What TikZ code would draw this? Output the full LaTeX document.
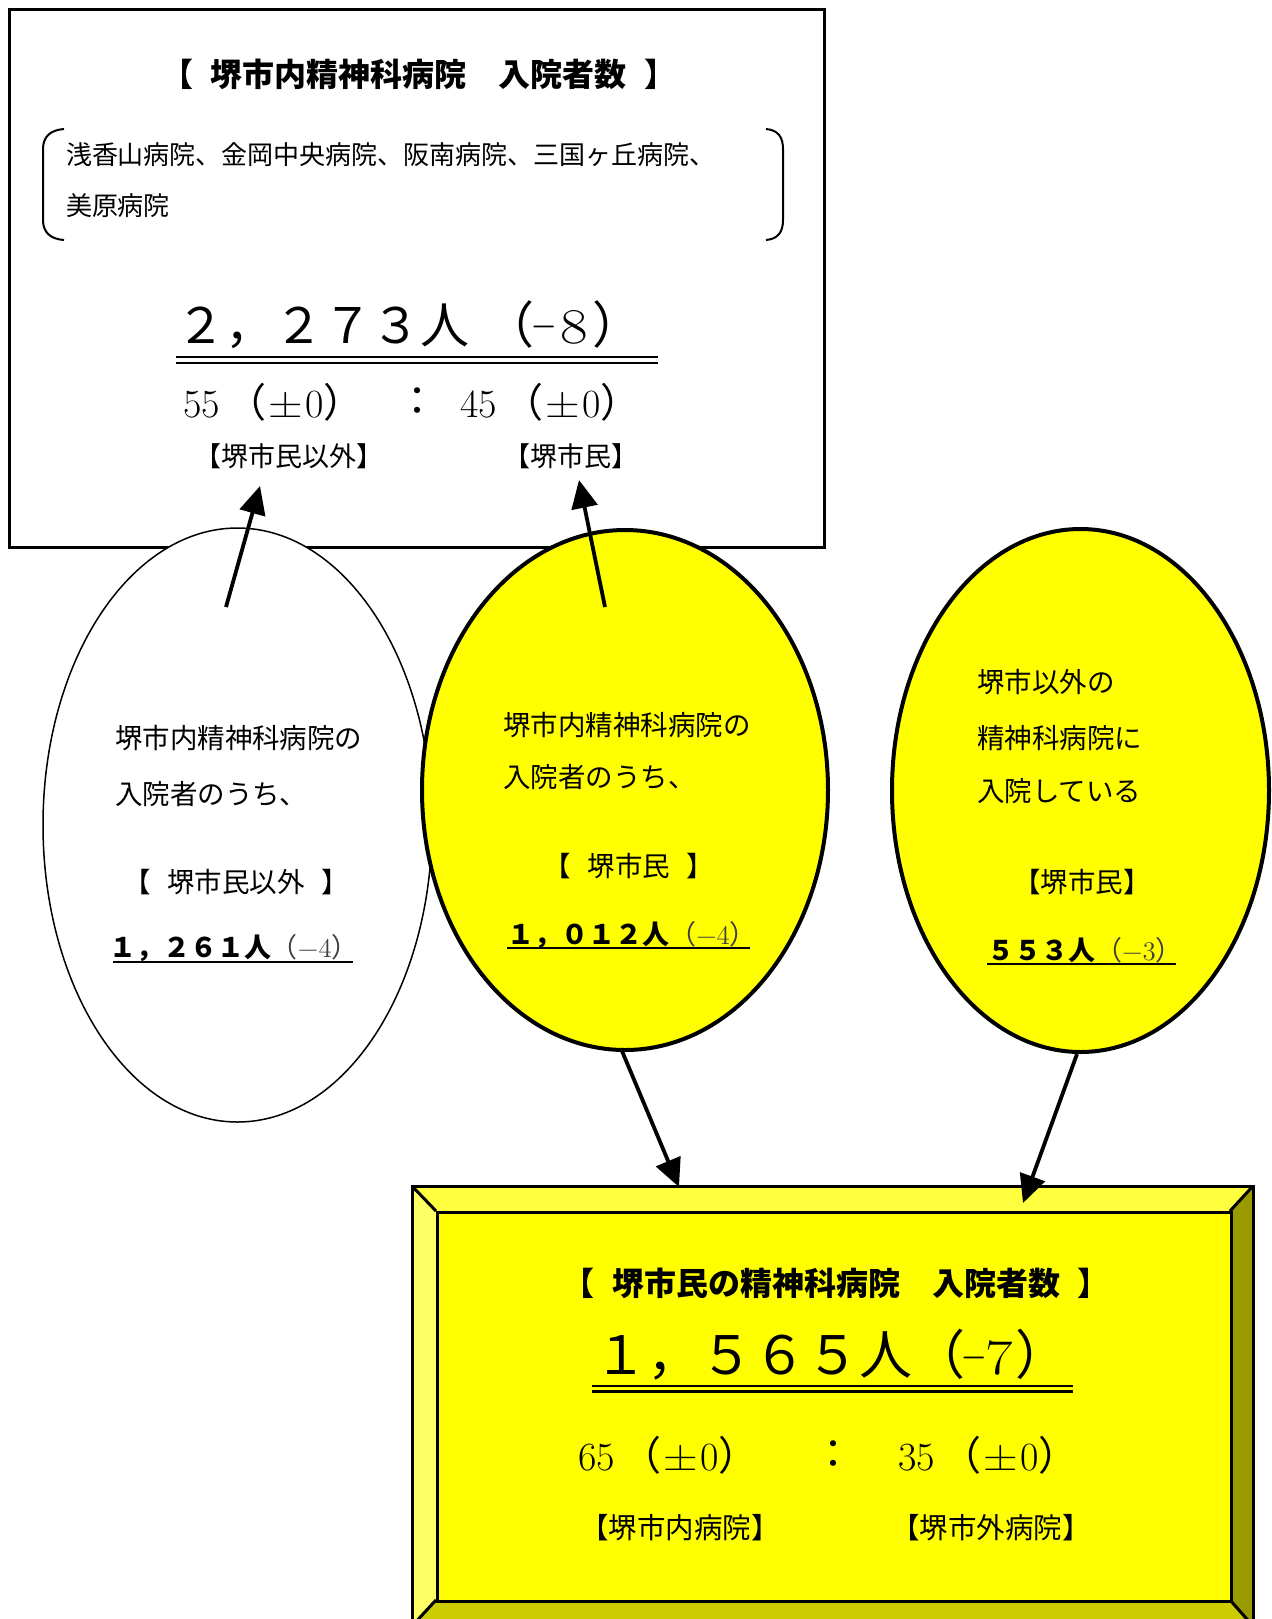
\documentclass[tikz,border=0pt]{standalone}
\usepackage{fontspec}
\usepackage{graphicx}
\setmainfont{Latin Modern Roman}
\newfontfamily\cjk{Noto Sans CJK JP}
\usetikzlibrary{shapes.geometric,arrows.meta}
\definecolor{bevT}{HTML}{FFFF40}
\definecolor{bevL}{HTML}{FFFF66}
\definecolor{bevR}{HTML}{999900}
\definecolor{bevB}{HTML}{CCCC00}
\definecolor{yel}{HTML}{FFFF00}
\newcommand{\ratio}[1]{#1\kern3.5pt{\cjk（}\kern1pt\scalebox{1.2}[1]{±}\kern1pt0{\cjk）}}
\newcommand{\shortminus}{\raisebox{2.2pt}{\scalebox{0.65}[1]{−}}}
\newcommand{\smpar}[1]{{\color{black!75}{\cjk\fontsize{13.5pt}{16pt}\selectfont （}\fontsize{13.5pt}{16pt}\selectfont #1{\cjk\fontsize{13.5pt}{16pt}\selectfont ）}}}
\begin{document}
\begin{tikzpicture}[x=0.5pt,y=-0.5pt,
  txt/.style={inner sep=0pt, outer sep=0pt},
  ttl/.style={txt, font=\cjk\bfseries\fontsize{16pt}{19pt}\selectfont},
  lst/.style={txt, anchor=west, font=\cjk\fontsize{13pt}{16pt}\selectfont},
  lbl/.style={txt, font=\cjk\fontsize{13.5pt}{16pt}\selectfont},
  lblb/.style={txt, font=\cjk\fontsize{14.25pt}{17pt}\selectfont},
  etx/.style={txt, anchor=west, font=\cjk\fontsize{13.75pt}{16pt}\selectfont},
  rat/.style={txt, font=\fontsize{20pt}{24pt}\selectfont},
  arr/.style={line width=1.9pt, -{Triangle[length=14pt,width=13pt]}},
  uline/.style={line width=1.4pt},
  eline/.style={line width=1pt},
  bev/.style={draw=black, line width=1.5pt, line join=miter},
]
\useasboundingbox (0,0) rectangle (1272,1619);
\fill[white] (0,0) rectangle (1272,1619);

% ---------- top box ----------
\node[draw, line width=1.5pt, minimum width=407.5pt, minimum height=269pt,
      inner sep=0pt, anchor=north west] (topbox) at (8,8) {};
\node[ttl] (title1) at (419,74) {【\hspace{0.55em}堺市内精神科病院　入院者数\hspace{0.55em}】};
\draw[line width=1pt] (64,129) .. controls (50,130) and (43,137) .. (43,149)
   -- (43,220) .. controls (43,232) and (50,239) .. (64,240);
\draw[line width=1pt] (766,129) .. controls (778,130) and (783,137) .. (783,149)
   -- (783,220) .. controls (783,232) and (778,239) .. (766,240);
\node[lst] (list1) at (66,155) {浅香山病院、金岡中央病院、阪南病院、三国ヶ丘病院、};
\node[lst] (list2) at (66,206) {美原病院};
\node[txt, anchor=west] (big1) at (176,325)
  {{\cjk\fontsize{24.5pt}{30pt}\selectfont ２，２７３人}\kern7.5pt{\cjk\fontsize{25pt}{30pt}\selectfont （}\kern-1pt{\fontsize{25pt}{30pt}\selectfont\shortminus\kern2pt\scalebox{1.2}[1]{8}}\kern2.5pt{\cjk\fontsize{25pt}{30pt}\selectfont ）}};
\draw[uline] (176,357) -- (658,357);
\draw[uline] (176,363) -- (658,363);
\node[rat, anchor=west] (r1) at (183,402) {\ratio{55}};
\node[rat] (c1) at (417,402) {\cjk ：};
\node[rat, anchor=west] (r2) at (460,402) {\ratio{45}};
\node[lbl] (l1) at (289,456) {【堺市民以外】};
\node[lbl] (l2) at (571,456) {【堺市民】};

% ---------- ellipses ----------
\node[ellipse, draw, line width=0.75pt, fill=white, inner sep=0pt,
      minimum width=194.5pt, minimum height=297pt] (e1) at (237.5,825) {};
\node[ellipse, draw, line width=2pt, fill=yel, inner sep=0pt,
      minimum width=203pt, minimum height=260pt] (e2) at (625,790) {};
\node[ellipse, draw, line width=2pt, fill=yel, inner sep=0pt,
      minimum width=188.5pt, minimum height=261.5pt] (e3) at (1080.5,790.5) {};

% ellipse 1 text
\node[etx] (e1a) at (115,738) {堺市内精神科病院の};
\node[etx] (e1b) at (115,794) {入院者のうち、};
\node[etx, anchor=center] (e1c) at (236,882) {【\hspace{0.6em}堺市民以外\hspace{0.6em}】};
\node[txt, anchor=west] (e1n) at (109,948)
  {{\cjk\bfseries\fontsize{13.5pt}{16pt}\selectfont １，２６１人}\smpar{−4}};
\draw[eline] (113,962) -- (353,962);

% ellipse 2 text
\node[etx] (e2a) at (503,725) {堺市内精神科病院の};
\node[etx] (e2b) at (503,777) {入院者のうち、};
\node[etx, anchor=center] (e2c) at (629,866) {【\hspace{0.6em}堺市民\hspace{0.6em}】};
\node[txt, anchor=west] (e2n) at (507,935)
  {{\cjk\bfseries\fontsize{13.5pt}{16pt}\selectfont １，０１２人}\smpar{−4}};
\draw[eline] (507,948) -- (750,948);

% ellipse 3 text
\node[etx] (e3a) at (977,682) {堺市以外の};
\node[etx] (e3b) at (977,738) {精神科病院に};
\node[etx] (e3c) at (977,791) {入院している};
\node[etx, anchor=center] (e3d) at (1082,882) {【堺市民】};
\node[txt, anchor=west] (e3n) at (987,950)
  {{\cjk\bfseries\fontsize{13.5pt}{16pt}\selectfont ５５３人}\smpar{−3}};
\draw[eline] (987,964) -- (1176,964);

% ---------- arrows up ----------
\coordinate (a1s) at (226,607);
\coordinate (a1e) at (260,486);
\coordinate (a2s) at (605,607);
\coordinate (a2e) at (579,480);
\draw[arr] (a1s) -- (a1e);
\draw[arr] (a2s) -- (a2e);

% ---------- bottom bevel box ----------
\fill[bevT] (412,1186) -- (1253,1186) -- (1230,1211) -- (436,1211) -- cycle;
\fill[bevL] (412,1186) -- (436,1211) -- (436,1600) -- (412,1626) -- cycle;
\fill[bevR] (1253,1186) -- (1253,1626) -- (1230,1600) -- (1230,1211) -- cycle;
\fill[bevB] (412,1626) -- (436,1600) -- (1230,1600) -- (1253,1626) -- cycle;
\node[fill=yel, draw, line width=1.6pt, inner sep=0pt, anchor=north west,
      minimum width=397pt, minimum height=194.5pt] (face) at (436,1211) {};
\draw[bev] (412,1186) rectangle (1253,1626);
\draw[bev] (412,1186) -- (436,1211);
\draw[bev] (1253,1186) -- (1230,1211);
\draw[bev] (412,1626) -- (436,1600);
\draw[bev] (1253,1626) -- (1230,1600);

\node[ttl] (title2) at (836,1283) {【\hspace{0.55em}堺市民の精神科病院　入院者数\hspace{0.55em}】};
\node[txt, anchor=west] (big2) at (594,1355)
  {{\cjk\fontsize{26.5pt}{30pt}\selectfont １，５６５人}{\cjk\fontsize{26.5pt}{30pt}\selectfont （}\kern-1.5pt{\fontsize{25pt}{30pt}\selectfont\shortminus\scalebox{1.2}[1]{7}}\kern1.5pt{\cjk\fontsize{26.5pt}{30pt}\selectfont ）}};
\draw[uline] (592,1386) -- (1073,1386);
\draw[uline] (592,1391.5) -- (1073,1391.5);
\node[rat, anchor=west] (r3) at (578,1455) {\ratio{65}};
\node[rat] (c2) at (833,1455) {\cjk ：};
\node[rat, anchor=west] (r4) at (898,1455) {\ratio{35}};
\node[lblb] (l3) at (680,1528) {【堺市内病院】};
\node[lblb] (l4) at (991,1528) {【堺市外病院】};

% ---------- arrows down ----------
\coordinate (a3s) at (622,1051);
\coordinate (a3e) at (679,1187);
\coordinate (a4s) at (1077,1054);
\coordinate (a4e) at (1023,1203);
\draw[arr] (a3s) -- (a3e);
\draw[arr] (a4s) -- (a4e);
\end{tikzpicture}
\end{document}
